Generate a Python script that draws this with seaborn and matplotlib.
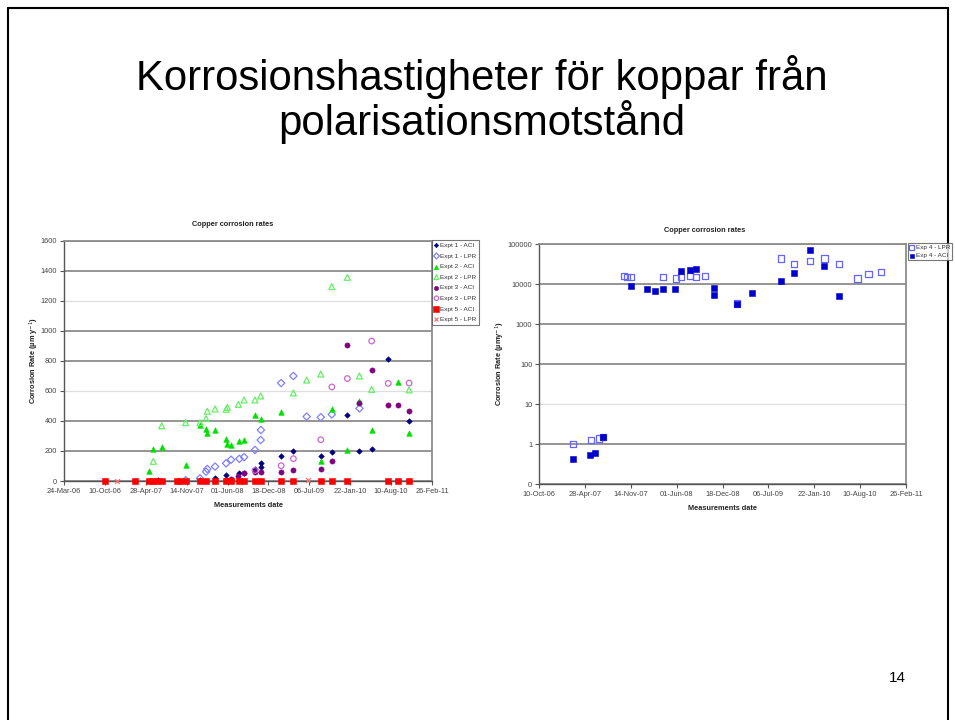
import numpy as np
import pandas as pd
import matplotlib
matplotlib.use("Agg")
import matplotlib.pyplot as plt
import matplotlib.dates as mdates
from matplotlib.lines import Line2D
import seaborn as sns

sns.set_theme(style="white")
plt.rcParams["font.family"] = ["Liberation Sans", "DejaVu Sans"]

# ---------------- data: left chart (linear) ----------------
e1_aci_dates = ["2007-06-27", "2008-01-18", "2008-04-01", "2008-05-25", "2008-07-29", "2008-08-21",
                "2008-10-13", "2008-11-10", "2008-11-11", "2009-02-18", "2009-04-19", "2009-08-31",
                "2009-10-24", "2010-01-08", "2010-03-08", "2010-05-07", "2010-07-27", "2010-11-06"]
e1_aci_vals = [5, 5, 18, 38, 51, 56, 82, 96, 118, 165, 200, 165, 191, 438, 200, 211, 811, 401]

e1_lpr_dates = ["2007-11-09", "2008-01-18", "2008-02-17", "2008-02-23", "2008-04-01", "2008-05-25",
                "2008-06-18", "2008-07-29", "2008-08-21", "2008-10-13", "2008-11-10", "2008-11-11",
                "2009-02-18", "2009-04-19", "2009-06-23", "2009-08-31", "2009-10-24", "2010-03-08"]
e1_lpr_vals = [5, 18, 62, 80, 96, 118, 142, 148, 159, 207, 273, 340, 653, 700, 429, 425, 444, 484]

e2_aci_dates = ["2007-05-15", "2007-06-04", "2007-07-15", "2007-11-09", "2008-01-18", "2008-02-17",
                "2008-02-23", "2008-04-01", "2008-05-25", "2008-05-27", "2008-06-18", "2008-07-29",
                "2008-08-21", "2008-10-13", "2008-11-10", "2009-02-18", "2009-08-31", "2009-10-24",
                "2010-01-08", "2010-03-08", "2010-05-07", "2010-09-14", "2010-11-06"]
e2_aci_vals = [67, 212, 229, 109, 373, 349, 322, 340, 278, 249, 237, 267, 271, 438, 415, 462, 133,
               478, 207, 536, 340, 662, 322]

e2_lpr_dates = ["2007-06-04", "2007-07-15", "2007-11-09", "2008-01-18", "2008-02-17", "2008-02-23",
                "2008-04-01", "2008-05-25", "2008-05-31", "2008-07-24", "2008-08-21", "2008-10-13",
                "2008-11-10", "2009-04-19", "2009-06-23", "2009-08-31", "2009-10-24", "2010-01-08",
                "2010-03-08", "2010-05-07", "2010-11-06"]
e2_lpr_vals = [131, 368, 389, 389, 416, 465, 480, 478, 491, 511, 540, 540, 567, 587, 673, 713,
               1296, 1358, 700, 611, 607]

e3_aci_dates = ["2008-05-25", "2008-06-18", "2008-07-24", "2008-08-21", "2008-10-13", "2008-11-10",
                "2009-02-18", "2009-04-19", "2009-08-31", "2009-10-24", "2010-01-08", "2010-03-08",
                "2010-05-07", "2010-07-27", "2010-09-14", "2010-11-06"]
e3_aci_vals = [7, 15, 33, 51, 62, 62, 62, 75, 78, 133, 907, 520, 740, 504, 504, 469]

e3_lpr_dates = ["2008-10-13", "2009-02-18", "2009-04-19", "2009-08-31", "2009-10-24", "2010-01-08",
                "2010-05-07", "2010-07-27", "2010-11-06"]
e3_lpr_vals = [70, 102, 149, 275, 627, 683, 933, 651, 653]

e5_aci_dates = ["2006-10-11", "2007-03-06", "2007-05-15", "2007-06-04", "2007-06-20", "2007-07-15",
                "2007-09-26", "2007-10-12", "2007-11-09", "2008-01-18", "2008-02-17", "2008-04-01",
                "2008-05-25", "2008-06-18", "2008-07-29", "2008-08-21", "2008-10-13", "2008-11-10",
                "2009-02-18", "2009-04-19", "2009-08-31", "2009-10-24", "2010-01-08", "2010-07-27",
                "2010-09-14", "2010-11-06"]
e5_aci_vals = [2, 2, 3, 2, 3, 2, 2, 3, 2, 3, 2, 2, 3, 2, 3, 2, 2, 3, 2, 2, 3, 2, 3, 2, 2, 3]

e5_lpr_dates = ["2006-12-07", "2009-07-01"]
e5_lpr_vals = [3, 4]

# ---------------- data: right chart (log) ----------------
e4_lpr_dates = ["2007-03-06", "2007-05-25", "2007-06-26", "2007-07-15", "2007-10-13", "2007-10-27",
                "2007-11-14", "2008-04-01", "2008-05-29", "2008-06-20", "2008-07-29", "2008-08-25",
                "2008-10-03", "2009-02-18", "2009-08-30", "2009-10-27", "2010-01-04", "2010-03-07",
                "2010-05-11", "2010-07-29", "2010-09-15", "2010-11-09"]
e4_lpr_vals = [1.0, 1.26, 1.4, 1.5, 16000, 15500, 15000, 15000, 14000, 15500, 16000, 15500,
               16000, 3300, 44000, 31500, 37500, 44000, 31500, 13900, 18500, 20300]

e4_aci_dates = ["2007-03-06", "2007-05-20", "2007-06-08", "2007-07-15", "2007-11-14", "2008-01-25",
                "2008-02-28", "2008-04-01", "2008-05-22", "2008-06-20", "2008-07-29", "2008-08-25",
                "2008-11-10", "2008-11-12", "2009-02-18", "2009-04-24", "2009-08-30", "2009-10-27",
                "2010-01-04", "2010-03-07", "2010-05-11"]
e4_aci_vals = [0.44, 0.53, 0.62, 1.5, 9100, 7800, 6800, 7800, 7500, 21500, 22400, 23700,
               8100, 5300, 3300, 6100, 12100, 19600, 71000, 28200, 5000]

left_yticks = [0, 200, 400, 600, 800, 1000, 1200, 1400, 1600]
right_yticks = [0.1, 1, 10, 100, 1000, 10000, 100000]
right_yticklabels = ["0", "1", "10", "100", "1000", "10000", "100000"]

W, H = 955, 720
fig = plt.figure(figsize=(W / 100, H / 100), dpi=100)
fig.patch.set_facecolor("white")


def fx(px):
    return px / W


def fy(py):
    return 1 - py / H


axL = fig.add_axes([fx(64), fy(481), 368 / W, 240 / H])
axR = fig.add_axes([fx(539.3), fy(484.3), 366.7 / W, 240 / H])


def draw(ax, dates, vals, label, marker, color, filled, s, lw=0.9):
    d = pd.DataFrame({"date": pd.to_datetime(dates), "val": vals})
    if filled:
        sns.scatterplot(data=d, x="date", y="val", ax=ax, marker=marker, s=s, color=color,
                        edgecolor=color, linewidth=lw, label=label, clip_on=False, zorder=3)
    else:
        sns.scatterplot(data=d, x="date", y="val", ax=ax, marker=marker, s=s, color=color,
                        facecolor="none", edgecolor=color, linewidth=lw, label=label,
                        clip_on=False, zorder=3)


draw(axL, e1_aci_dates, e1_aci_vals, "Expt 1 - ACI", "D", "#000080", True, 8, 0.4)
draw(axL, e1_lpr_dates, e1_lpr_vals, "Expt 1 - LPR", "D", "#8080ff", False, 14)
draw(axL, e2_aci_dates, e2_aci_vals, "Expt 2 - ACI", "^", "#00e000", True, 16, 0.4)
draw(axL, e2_lpr_dates, e2_lpr_vals, "Expt 2 - LPR", "^", "#66ee66", False, 18)
draw(axL, e3_aci_dates, e3_aci_vals, "Expt 3 - ACI", "o", "#800080", True, 14, 0.4)
draw(axL, e3_lpr_dates, e3_lpr_vals, "Expt 3 - LPR", "o", "#cc66cc", False, 16)
draw(axL, e5_aci_dates, e5_aci_vals, "Expt 5 - ACI", "s", "#ff0000", True, 22, 0.4)
draw(axL, e5_lpr_dates, e5_lpr_vals, "Expt 5 - LPR", "x", "#ff7070", True, 12, 0.9)

draw(axR, e4_lpr_dates, e4_lpr_vals, "Exp 4 - LPR", "s", "#6666ff", False, 20)
draw(axR, e4_aci_dates, e4_aci_vals, "Exp 4 - ACI", "s", "#0000cc", True, 20, 0.4)

fmt = mdates.DateFormatter("%d-%b-%y")

# left axes
left_xticks = pd.date_range("2006-03-24", periods=10, freq="200D")
axL.set_xlim(mdates.date2num(left_xticks[0]), mdates.date2num(left_xticks[-1]))
axL.set_xticks(mdates.date2num(left_xticks))
axL.xaxis.set_major_formatter(fmt)
axL.set_ylim(0, 1600)
axL.set_yticks(left_yticks)
axL.set_yticklabels([str(v) for v in left_yticks])

# right axes
right_xticks = pd.date_range("2006-10-10", periods=9, freq="200D")
axR.set_yscale("log")
axR.set_xlim(mdates.date2num(right_xticks[0]), mdates.date2num(right_xticks[-1]))
axR.set_xticks(mdates.date2num(right_xticks))
axR.xaxis.set_major_formatter(fmt)
axR.set_ylim(0.1, 100000)
axR.set_yticks(right_yticks)
axR.set_yticklabels(right_yticklabels)
axR.yaxis.set_minor_locator(matplotlib.ticker.NullLocator())

for ax, light in ((axL, (3, 6)), (axR, (2,))):
    ax.set_facecolor("white")
    ax.set_xlabel("")
    ax.set_ylabel("")
    ax.set_axisbelow(True)
    ax.yaxis.grid(True, color="#8c8c8c", linewidth=1.3)
    ax.xaxis.grid(False)
    for i, gl in enumerate(ax.get_ygridlines()):
        if i in light:
            gl.set_color("#dedede")
            gl.set_linewidth(0.9)
    for side in ("top", "right"):
        ax.spines[side].set_color("#8c8c8c")
        ax.spines[side].set_linewidth(1.3)
        ax.spines[side].set_visible(True)
    for side in ("left", "bottom"):
        ax.spines[side].set_color("#555555")
        ax.spines[side].set_linewidth(1.0)
        ax.spines[side].set_visible(True)
    ax.tick_params(axis="both", which="major", labelsize=5.3, labelcolor="#444444",
                   color="#555555", length=3, width=0.8, direction="out", pad=2,
                   left=True, bottom=True)
    if ax.get_legend() is not None:
        ax.get_legend().remove()

# titles and labels
fig.text(fx(233), fy(225), "Copper corrosion rates", ha="center", va="center",
         fontsize=5.3, fontweight="bold", color="#222222")
fig.text(fx(705), fy(231), "Copper corrosion rates", ha="center", va="center",
         fontsize=5.3, fontweight="bold", color="#222222")
fig.text(fx(248), fy(505.5), "Measurements date", ha="center", va="center",
         fontsize=5.3, fontweight="bold", color="#222222")
fig.text(fx(722), fy(509), "Measurements date", ha="center", va="center",
         fontsize=5.3, fontweight="bold", color="#222222")
fig.text(fx(34), fy(361), "Corrosion Rate (µm y$^{-1}$)", ha="center", va="center",
         rotation=90, fontsize=5.3, fontweight="bold", color="#222222")
fig.text(fx(500), fy(364), "Corrosion Rate (µmy$^{-1}$)", ha="center", va="center",
         rotation=90, fontsize=5.3, fontweight="bold", color="#222222")

# legends
hL, lL = axL.get_legend_handles_labels()
legL = fig.legend(hL, lL, loc="upper left", bbox_to_anchor=(fx(432), fy(240)),
                  fontsize=4.6, frameon=True, fancybox=False, edgecolor="#555555",
                  borderpad=0.4, labelspacing=0.8, handlelength=0.6, handletextpad=0.3,
                  borderaxespad=0, markerscale=0.8)
legL.get_frame().set_linewidth(0.8)
for t in legL.get_texts():
    t.set_color("#333333")

hR, lR = axR.get_legend_handles_labels()
legR = fig.legend(hR, lR, loc="upper left", bbox_to_anchor=(fx(908), fy(243)),
                  fontsize=4.6, frameon=True, fancybox=False, edgecolor="#555555",
                  borderpad=0.3, labelspacing=0.4, handlelength=0.6, handletextpad=0.3,
                  borderaxespad=0, markerscale=0.8)
legR.get_frame().set_linewidth(0.8)
for t in legR.get_texts():
    t.set_color("#333333")

# slide title and page number
fig.text(fx(482), fy(77), "Korrosionshastigheter för koppar från", ha="center", va="center",
         fontsize=30.2, color="black")
fig.text(fx(482), fy(122), "polarisationsmotstånd", ha="center", va="center",
         fontsize=30.2, color="black")
fig.text(fx(897), fy(678), "14", ha="center", va="center", fontsize=11, color="black")

# slide frame
for xs, ys in (([8, 8], [8, 722]), ([8, 948], [8, 8]), ([948, 948], [8, 722])):
    fig.add_artist(Line2D([fx(x) for x in xs], [fy(y) for y in ys], color="black",
                          linewidth=1.5, transform=fig.transFigure))

fig.savefig("out.png", dpi=100, facecolor="white")
